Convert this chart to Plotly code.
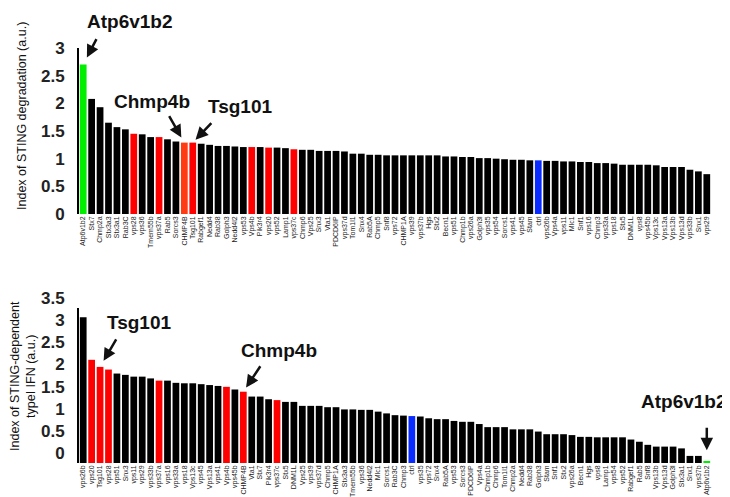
import plotly.graph_objects as go

# ---------------- data ----------------
deg_genes = [
    "Atp6v1b2", "Stx7", "Chmp2a", "Stx3a3", "Stx3a1", "Rab3C", "vps28", "vps36", "Tmem55b", "vps37a",
    "Rab5", "Sorcs3", "CHMP4B", "Tsg101", "Rabgef1", "Nedd4", "Rab38", "Golph3", "Nedd4l2", "vps53",
    "Vps4b", "Pik3r4", "vps20", "vps52", "Lamp1", "vps37c", "Chmp6", "Vps25", "Snx3", "Vta1",
    "PDCD6IP", "vps37d", "Tom1l1", "Snx4", "Rab5A", "Chmp5", "Snf8", "vps72", "CHMP1A", "vps39",
    "vps37b", "Hgs", "Stx2", "Becn1", "vps51", "Chmp1b", "vps26a", "Golph3l", "vps35", "vps54",
    "Sorcs1", "vps41", "vps45", "Stam", "ctrl", "vps26b", "Vps4a", "vps11", "Mlc1", "Snf1",
    "vps16", "Chmp3", "vps33a", "vps18", "Stx5", "DNM1L", "vps8", "vps45b", "Vps13c", "Vps13a",
    "Vps13b", "Vps13d", "vps33b", "Snx1", "vps29",
]
deg_values = [
    2.70, 2.08, 1.93, 1.65, 1.57, 1.53, 1.45, 1.44, 1.39, 1.39,
    1.35, 1.31, 1.29, 1.29, 1.27, 1.25, 1.23, 1.23, 1.22, 1.21,
    1.21, 1.21, 1.20, 1.20, 1.19, 1.17, 1.16, 1.16, 1.14, 1.14,
    1.14, 1.13, 1.09, 1.09, 1.07, 1.07, 1.06, 1.06, 1.06, 1.06,
    1.06, 1.06, 1.06, 1.04, 1.04, 1.03, 1.03, 1.01, 1.01, 1.00,
    0.99, 0.98, 0.98, 0.97, 0.97, 0.96, 0.96, 0.95, 0.95, 0.94,
    0.94, 0.92, 0.92, 0.91, 0.89, 0.89, 0.89, 0.89, 0.88, 0.85,
    0.85, 0.85, 0.80, 0.77, 0.72,
]

ifn_genes = [
    "vps26b", "vps20", "Tsg101", "vps28", "vps51", "Snx3", "vps11", "vps29", "vps33b", "vps37a",
    "vps16", "vps33a", "vps18", "Vps13c", "vps45", "Vps13a", "vps41", "Vps4b", "vps45b", "CHMP4B",
    "Vta1", "Stx7", "Pik3r4", "vps37c", "Stx5", "DNM1L", "Vps25", "vps39", "vps37d", "Chmp5",
    "CHMP1A", "Stx3a3", "Tmem55b", "vps36", "Nedd4l2", "Mlc1", "Sorcs1", "Rab3C", "Chmp3", "ctrl",
    "vps35", "vps72", "Snx4", "Rab5A", "vps53", "Sorcs3", "PDCD6IP", "Vps4a", "Chmp1b", "Chmp6",
    "Tom1l1", "Chmp2a", "Nedd4", "Rab38", "Golph3", "Stam", "Snf1", "Stx2", "vps26a", "Becn1",
    "Hgs", "vps8", "Lamp1", "vps54", "vps52", "Rabgef1", "Rab5", "Snf8", "Vps13b", "Vps13d",
    "Golph3l", "Stx3a1", "Snx1", "vps37b", "Atp6v1b2",
]
ifn_values = [
    3.29, 2.33, 2.17, 2.11, 2.02, 1.99, 1.95, 1.95, 1.91, 1.86,
    1.86, 1.81, 1.80, 1.80, 1.78, 1.76, 1.74, 1.72, 1.66, 1.61,
    1.50, 1.50, 1.44, 1.42, 1.38, 1.38, 1.29, 1.29, 1.29, 1.26,
    1.26, 1.21, 1.21, 1.20, 1.20, 1.16, 1.12, 1.08, 1.07, 1.06,
    1.05, 1.01, 0.99, 0.99, 0.95, 0.93, 0.93, 0.88, 0.81, 0.81,
    0.81, 0.76, 0.76, 0.76, 0.71, 0.65, 0.65, 0.65, 0.63, 0.59,
    0.59, 0.58, 0.58, 0.58, 0.58, 0.53, 0.48, 0.41, 0.37, 0.37,
    0.37, 0.33, 0.16, 0.16, 0.04,
]

escrt_genes = ["vps28", "vps37a", "CHMP4B", "Tsg101", "Vps4b", "vps20", "vps37c"]
target_gene = "Atp6v1b2"
control_gene = "ctrl"

top_ticks = [0, 0.5, 1, 1.5, 2, 2.5, 3]
top_tick_text = ["0", "0.5", "1", "1.5", "2", "2.5", "3"]
bot_ticks = [0, 0.5, 1, 1.5, 2, 2.5, 3, 3.5]
bot_tick_text = ["0", "0.5", "1", "1.5", "2", "2.5", "3", "3.5"]

# ---------------- styles ----------------
RED = "#ff0000"
ORANGE_RED = "#ff3b14"
GREEN = "#00ee00"
BLUE = "#0a2bff"
BLACK = "#000000"


def bar_colors(genes, chmp_color):
    out = []
    for g in genes:
        if g == target_gene:
            out.append(GREEN)
        elif g == control_gene:
            out.append(BLUE)
        elif g == "CHMP4B":
            out.append(chmp_color)
        elif g in escrt_genes:
            out.append(RED)
        else:
            out.append(BLACK)
    return out


# The page body has an 8px default margin; lay out in window pixels and compensate.
PAGE_OFF = 8
W, H = 730, 497
FW, FH = W - PAGE_OFF, H - PAGE_OFF
X0, X1 = 79, 711
TOP_Y0, TOP_Y1 = 48, 214
BOT_Y0, BOT_Y1 = 308, 463


def px(x):
    return (x - PAGE_OFF) / FW


def py(y):
    return 1 - (y - PAGE_OFF) / FH


fig = go.Figure()
fig.add_trace(go.Bar(x=deg_genes, y=deg_values, marker=dict(color=bar_colors(deg_genes, ORANGE_RED), line=dict(width=0)),
                     xaxis="x", yaxis="y", showlegend=False))
fig.add_trace(go.Bar(x=ifn_genes, y=ifn_values, marker=dict(color=bar_colors(ifn_genes, RED), line=dict(width=0)),
                     xaxis="x2", yaxis="y2", showlegend=False))

FONT = "Liberation Sans, Arial, Helvetica, sans-serif"
xcommon = dict(type="category", tickangle=-90, tickfont=dict(size=7, color="#222", family=FONT),
               showgrid=False, zeroline=False, showline=False, ticks="", tickmode="array",
               domain=[px(X0), px(X1)], range=[-0.5, 74.5], fixedrange=True, automargin=False)
ycommon = dict(showgrid=False, zeroline=False, showline=True, linecolor="black", linewidth=2,
               ticks="", tickmode="array", tickfont=dict(size=17, color="#222", family=FONT, weight="bold"),
               ticklabelstandoff=9, fixedrange=True, automargin=False)

fig.update_layout(
    width=FW, height=FH, margin=dict(l=0, r=0, t=0, b=0, pad=0, autoexpand=False),
    paper_bgcolor="white", plot_bgcolor="white", bargap=0.2,
    xaxis=dict(xcommon, anchor="y", tickvals=deg_genes, ticktext=deg_genes),
    yaxis=dict(ycommon, anchor="x", domain=[py(TOP_Y1), py(TOP_Y0)], range=[0, 3],
               tickvals=top_ticks, ticktext=top_tick_text),
    xaxis2=dict(xcommon, anchor="y2", tickvals=ifn_genes, ticktext=ifn_genes),
    yaxis2=dict(ycommon, anchor="x2", domain=[py(BOT_Y1), py(BOT_Y0)], range=[0, 3.5],
                tickvals=bot_ticks, ticktext=bot_tick_text, ticklabelshift=-10),
)

annotations = []
# axis titles
annotations.append(dict(text="Index of STING degradation (a.u.)", xref="paper", yref="paper",
                        x=px(22), y=py(116), textangle=-90, showarrow=False,
                        font=dict(size=12.5, color="#111", family=FONT), xanchor="center", yanchor="middle"))
annotations.append(dict(text="Index of STING-dependent<br>typeI IFN (a.u.)", xref="paper", yref="paper",
                        x=px(23), y=py(376), textangle=-90, showarrow=False,
                        font=dict(size=12.5, color="#111", family=FONT), xanchor="center", yanchor="middle"))

# callout labels
callouts = [
    ("Atp6v1b2", 130, 21),
    ("Chmp4b", 152, 101),
    ("Tsg101", 240, 106),
    ("Tsg101", 139, 322),
    ("Chmp4b", 279, 350),
    ("Atp6v1b2", 684, 401),
]
for txt, cx, cy in callouts:
    annotations.append(dict(text="<b>%s</b>" % txt, xref="paper", yref="paper", x=px(cx), y=py(cy),
                            showarrow=False, font=dict(size=19, color="#111", family=FONT),
                            xanchor="center", yanchor="middle"))

# arrows pointing at bars (head anchored on the bar top from the data)
arrows = [
    ("x", "y", deg_genes, deg_values, "Atp6v1b2", 14, -27, 8),
    ("x", "y", deg_genes, deg_values, "CHMP4B", -16, -28, 6),
    ("x", "y", deg_genes, deg_values, "Tsg101", 20, -21, 4),
    ("x2", "y2", ifn_genes, ifn_values, "Tsg101", 17, -29, 7),
    ("x2", "y2", ifn_genes, ifn_values, "CHMP4B", 18, -27, 5),
    ("x2", "y2", ifn_genes, ifn_values, "Atp6v1b2", 0, -35, 11),
]
for xr, yr, genes, vals, g, ax, ay, so in arrows:
    i = genes.index(g)
    annotations.append(dict(text="", x=g, y=vals[i], xref=xr, yref=yr, ax=ax, ay=ay,
                            showarrow=True, arrowhead=2, arrowsize=1, arrowwidth=2.5,
                            arrowcolor="#111", standoff=so))

fig.update_layout(annotations=annotations)

fig.write_html("out.html")
